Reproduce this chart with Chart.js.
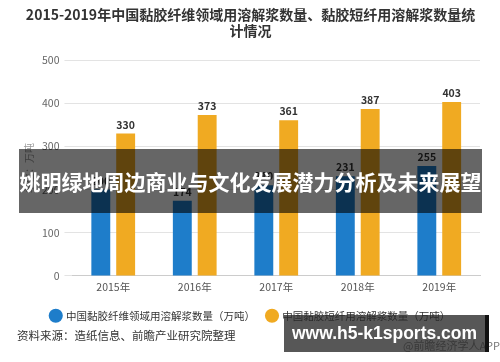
<!DOCTYPE html>
<html>
<head>
<meta charset="utf-8">
<script src="https://cdn.jsdelivr.net/npm/chart.js@4/dist/chart.umd.min.js"></script>
<style>
  body { margin: 0; background: #fff; font-family: "Noto Sans CJK SC", "Noto Sans", sans-serif; }
  #wrap { position: relative; width: 500px; height: 362px; overflow: hidden; }
  #myChart { position: absolute; left: 0; top: 0; }
  .note { position: absolute; white-space: nowrap; }
  #source { left: 17px; top: 327px; font-size: 11.5px; color: #333; }
  #app { left: 403px; top: 337px; font-size: 11px; color: #777; }
  #banner { left: 19px; top: 149px; width: 463px; height: 64px; background: rgba(0,0,0,0.6);
            color: #fff; font-family: "Noto Sans CJK SC", sans-serif; font-size: 21px; font-weight: bold;
            line-height: 64px; text-align: center; }
  #site { left: 284px; top: 315px; width: 201px; height: 37px; background: rgba(40,40,40,0.78);
          border-right: 4px solid #111; color: #fff; font-family: "Liberation Sans", Arial, sans-serif;
          font-size: 17.5px; font-weight: bold; line-height: 37px; text-align: center; }
</style>
</head>
<body>
<div id="wrap">
  <canvas id="myChart" width="500" height="362"></canvas>
  <div class="note" id="source">资料来源：造纸信息、前瞻产业研究院整理</div>
  <div class="note" id="app">@前瞻经济学人APP</div>
  <div class="note" id="banner">姚明绿地周边商业与文化发展潜力分析及未来展望</div>
  <div class="note" id="site">www.h5-k1sports.com</div>
</div>
<script>
var years = ["2015年", "2016年", "2017年", "2018年", "2019年"];
var fiberValues = [200, 174, 210, 231, 255];
var staple = [330, 373, 361, 387, 403];
var seriesNames = ["中国黏胶纤维领域用溶解浆数量（万吨）", "中国黏胶短纤用溶解浆数量（万吨）"];
var yTicks = [0, 100, 200, 300, 400, 500];

var cjk = "'Noto Sans CJK SC', 'Noto Sans', sans-serif";

// numbers above the bars
var barLabels = {
  id: "barLabels",
  afterDatasetsDraw: function (chart) {
    var ctx = chart.ctx;
    ctx.save();
    ctx.font = "bold 10.5px " + cjk;
    ctx.fillStyle = "#333";
    ctx.textAlign = "center";
    ctx.textBaseline = "middle";
    chart.data.datasets.forEach(function (ds, i) {
      chart.getDatasetMeta(i).data.forEach(function (bar, j) {
        ctx.fillText(ds.data[j], bar.x, bar.y - 9);
      });
    });
    ctx.restore();
  }
};

var chart = new Chart("myChart", {
  type: "bar",
  data: {
    labels: years,
    datasets: [{
      label: seriesNames[0],
      data: fiberValues,
      backgroundColor: "#1E7DCA",
      barPercentage: 0.76,
      categoryPercentage: 0.61
    }, {
      label: seriesNames[1],
      data: staple,
      backgroundColor: "#F0AA22",
      barPercentage: 0.76,
      categoryPercentage: 0.61
    }]
  },
  options: {
    responsive: false,
    animation: false,
    layout: { padding: { left: 21, right: 20, top: 0, bottom: 31 } },
    plugins: {
      title: {
        display: true,
        text: ["2015-2019年中国黏胶纤维领域用溶解浆数量、黏胶短纤用溶解浆数量统", "计情况"],
        color: "#333",
        font: { family: cjk, size: 14, weight: "bold", lineHeight: 1.15 },
        padding: { top: 7, bottom: 21 }
      },
      legend: {
        position: "bottom",
        labels: {
          usePointStyle: true,
          pointStyle: "circle",
          boxWidth: 10,
          boxHeight: 10,
          padding: 12,
          color: "#333",
          font: { family: cjk, size: 10.5 }
        }
      },
      tooltip: { enabled: false }
    },
    scales: {
      x: {
        grid: { display: false, drawTicks: false },
        border: { color: "#ccc" },
        ticks: { color: "#555", font: { family: cjk, size: 10.5 }, padding: 5 }
      },
      y: {
        min: 0,
        max: 500,
        afterBuildTicks: function (axis) {
          axis.ticks = yTicks.map(function (v) { return { value: v }; });
        },
        grid: { color: "#e3e3e3", tickLength: 8 },
        border: { display: false },
        ticks: { color: "#666", font: { family: cjk, size: 10.5 }, padding: 5 },
        title: {
          display: true,
          text: "单位：万吨",
          color: "#999",
          font: { family: cjk, size: 10 },
          padding: 2
        }
      }
    }
  },
  plugins: [barLabels]
});
</script>
</body>
</html>
